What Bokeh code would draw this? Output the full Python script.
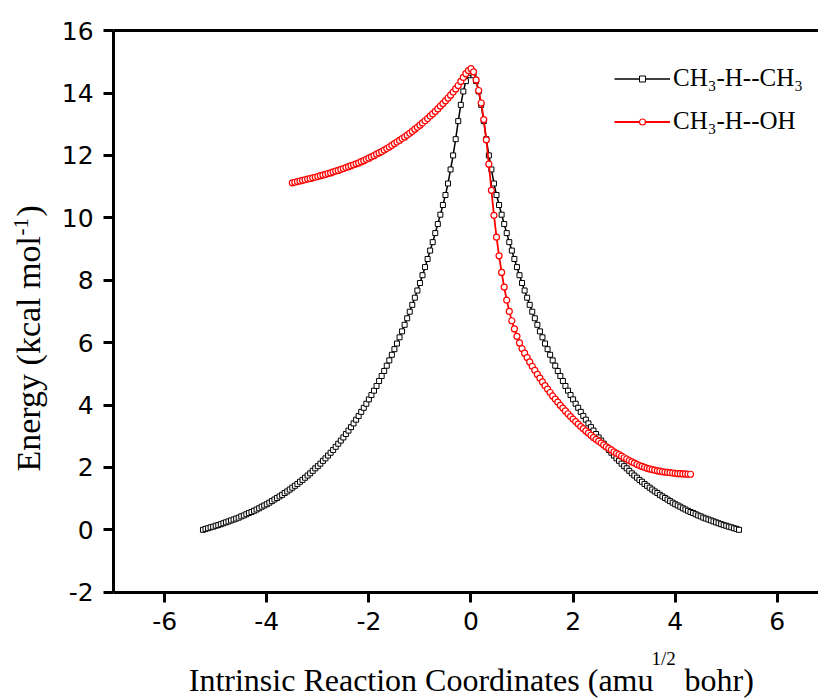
import math
from bokeh.plotting import figure
from bokeh.models import (LinearAxis, Label, Legend, LegendItem, FixedTicker, Range1d,
                          CustomJSTickFormatter)
from bokeh.embed import file_html
from bokeh.resources import INLINE

# ---- data ----
black_x = [-5.25,-5.2,-5.15,-5.1,-5.05,-5.0,-4.95,-4.9,-4.85,-4.8,-4.75,-4.7,-4.65,-4.6,-4.55,-4.5,-4.45,-4.4,-4.35,-4.3,
           -4.25,-4.2,-4.15,-4.1,-4.05,-4.0,-3.95,-3.9,-3.85,-3.8,-3.75,-3.7,-3.65,-3.6,-3.55,-3.5,-3.45,-3.4,-3.35,-3.3,
           -3.25,-3.2,-3.15,-3.1,-3.05,-3.0,-2.95,-2.9,-2.85,-2.8,-2.75,-2.7,-2.65,-2.6,-2.55,-2.5,-2.45,-2.4,-2.35,-2.3,
           -2.25,-2.2,-2.15,-2.1,-2.05,-2.0,-1.95,-1.9,-1.85,-1.8,-1.75,-1.7,-1.65,-1.6,-1.55,-1.5,-1.45,-1.4,-1.35,-1.3,
           -1.25,-1.2,-1.15,-1.1,-1.05,-1.0,-0.95,-0.9,-0.85,-0.8,-0.75,-0.7,-0.65,-0.6,-0.55,-0.5,-0.45,-0.4,-0.35,-0.3,
           -0.25,-0.2,-0.15,-0.1,-0.05,0.0,
           0.05,0.1,0.15,0.2,0.25,0.3,0.35,0.4,0.45,0.5,0.55,0.6,0.65,0.7,0.75,0.8,0.85,0.9,0.95,1.0,
           1.05,1.1,1.15,1.2,1.25,1.3,1.35,1.4,1.45,1.5,1.55,1.6,1.65,1.7,1.75,1.8,1.85,1.9,1.95,2.0,
           2.05,2.1,2.15,2.2,2.25,2.3,2.35,2.4,2.45,2.5,2.55,2.6,2.65,2.7,2.75,2.8,2.85,2.9,2.95,3.0,
           3.05,3.1,3.15,3.2,3.25,3.3,3.35,3.4,3.45,3.5,3.55,3.6,3.65,3.7,3.75,3.8,3.85,3.9,3.95,4.0,
           4.05,4.1,4.15,4.2,4.25,4.3,4.35,4.4,4.45,4.5,4.55,4.6,4.65,4.7,4.75,4.8,4.85,4.9,4.95,5.0,
           5.05,5.1,5.15,5.2,5.25]
black_e = [0.00,0.03,0.05,0.08,0.10,0.13,0.15,0.18,0.21,0.24,0.27,0.30,0.33,0.36,0.39,0.43,0.46,0.50,0.54,0.57,
           0.61,0.65,0.69,0.74,0.78,0.82,0.87,0.92,0.97,1.02,1.07,1.12,1.18,1.23,1.29,1.35,1.41,1.47,1.54,1.60,
           1.67,1.74,1.81,1.89,1.97,2.04,2.12,2.21,2.29,2.38,2.47,2.56,2.66,2.76,2.86,2.96,3.07,3.18,3.29,3.41,
           3.53,3.65,3.78,3.91,4.04,4.18,4.32,4.46,4.61,4.77,4.93,5.09,5.26,5.43,5.61,5.79,5.97,6.17,6.36,6.57,
           6.78,6.99,7.21,7.44,7.67,7.91,8.16,8.42,8.68,8.95,9.22,9.51,9.80,10.10,10.41,10.73,11.10,11.55,12.00,12.52,
           13.10,13.62,14.05,14.38,14.57,14.65,
           14.57,14.38,14.05,13.62,13.10,12.52,12.00,11.55,11.10,10.73,10.41,10.10,9.80,9.51,9.22,8.95,8.68,8.42,8.16,7.91,
           7.67,7.44,7.21,6.99,6.78,6.57,6.36,6.17,5.97,5.79,5.61,5.43,5.26,5.09,4.93,4.77,4.61,4.46,4.32,4.18,
           4.04,3.91,3.78,3.65,3.53,3.41,3.29,3.18,3.07,2.96,2.86,2.76,2.66,2.56,2.47,2.38,2.29,2.21,2.12,2.04,
           1.97,1.89,1.81,1.74,1.67,1.60,1.54,1.47,1.41,1.35,1.29,1.23,1.18,1.12,1.07,1.02,0.97,0.92,0.87,0.82,
           0.78,0.74,0.69,0.65,0.61,0.57,0.54,0.50,0.46,0.43,0.39,0.36,0.33,0.30,0.27,0.24,0.21,0.18,0.15,0.13,
           0.10,0.08,0.05,0.03,0.00]

red_x = [-3.5,-3.45,-3.4,-3.35,-3.3,-3.25,-3.2,-3.15,-3.1,-3.05,-3.0,-2.95,-2.9,-2.85,-2.8,-2.75,-2.7,-2.65,-2.6,-2.55,
         -2.5,-2.45,-2.4,-2.35,-2.3,-2.25,-2.2,-2.15,-2.1,-2.05,-2.0,-1.95,-1.9,-1.85,-1.8,-1.75,-1.7,-1.65,-1.6,-1.55,
         -1.5,-1.45,-1.4,-1.35,-1.3,-1.25,-1.2,-1.15,-1.1,-1.05,-1.0,-0.95,-0.9,-0.85,-0.8,-0.75,-0.7,-0.65,-0.6,-0.55,
         -0.5,-0.45,-0.4,-0.35,-0.3,-0.25,-0.2,-0.15,-0.1,-0.05,0.0,
         0.05,0.1,0.15,0.2,0.25,0.3,0.35,0.4,0.45,0.5,0.55,0.6,0.65,0.7,0.75,0.8,0.85,0.9,0.95,1.0,
         1.05,1.1,1.15,1.2,1.25,1.3,1.35,1.4,1.45,1.5,1.55,1.6,1.65,1.7,1.75,1.8,1.85,1.9,1.95,2.0,
         2.05,2.1,2.15,2.2,2.25,2.3,2.35,2.4,2.45,2.5,2.55,2.6,2.65,2.7,2.75,2.8,2.85,2.9,2.95,3.0,
         3.05,3.1,3.15,3.2,3.25,3.3,3.35,3.4,3.45,3.5,3.55,3.6,3.65,3.7,3.75,3.8,3.85,3.9,3.95,4.0,
         4.05,4.1,4.15,4.2,4.25,4.3]
red_e = [11.12,11.14,11.16,11.18,11.20,11.22,11.24,11.26,11.28,11.30,11.32,11.35,11.37,11.39,11.42,11.44,11.47,11.50,11.52,11.55,
         11.58,11.61,11.64,11.67,11.70,11.73,11.76,11.80,11.83,11.87,11.91,11.95,11.99,12.04,12.08,12.12,12.17,12.22,12.27,12.32,
         12.38,12.43,12.48,12.54,12.59,12.65,12.71,12.77,12.84,12.90,12.97,13.04,13.11,13.18,13.26,13.33,13.41,13.49,13.58,13.66,
         13.75,13.84,13.93,14.03,14.13,14.24,14.37,14.50,14.62,14.72,14.78,
         14.68,14.42,14.08,13.68,13.15,12.50,11.72,10.88,10.08,9.38,8.78,8.25,7.78,7.36,7.00,6.70,6.44,6.20,5.99,5.81,
         5.66,5.52,5.38,5.24,5.11,4.98,4.86,4.74,4.62,4.51,4.40,4.29,4.19,4.09,3.99,3.90,3.81,3.72,3.63,3.55,
         3.47,3.39,3.31,3.24,3.17,3.10,3.03,2.96,2.90,2.84,2.78,2.72,2.66,2.61,2.56,2.50,2.45,2.41,2.36,2.31,
         2.27,2.22,2.18,2.14,2.10,2.06,2.03,2.00,1.97,1.95,1.93,1.91,1.89,1.88,1.86,1.85,1.84,1.83,1.82,1.81,
         1.80,1.80,1.79,1.79,1.78,1.78]

series_names = ["CH\u2083-H--CH\u2083", "CH\u2083-H--OH"]
x_ticks = [-6, -4, -2, 0, 2, 4, 6]
y_ticks = [-2, 0, 2, 4, 6, 8, 10, 12, 14, 16]
x_axis_bounds = (-7.0, 6.81)
y_axis_bounds = (-2, 16)

nb = min(len(black_x), len(black_e))
nr = min(len(red_x), len(red_e))

SERIF = "Liberation Serif"
SANS = "DejaVu Sans"
W, H = 818, 698

# the frame fills the whole canvas; axes are pinned at the plot-area edges
p = figure(width=W, height=H, x_range=Range1d(-9.216, 6.807), y_range=Range1d(-5.407, 16.965),
           output_backend="svg", toolbar_location=None,
           min_border_left=0, min_border_right=0, min_border_top=0, min_border_bottom=0)
p.background_fill_color = "white"
p.border_fill_color = "white"
p.outline_line_color = None
p.xgrid.visible = False
p.ygrid.visible = False

fmt = CustomJSTickFormatter(code="return tick.toFixed(0);")
for ax in (p.xaxis[0], p.yaxis[0]):
    ax.axis_line_width = 3
    ax.axis_line_color = "black"
    ax.major_tick_line_width = 3
    ax.major_tick_line_color = "black"
    ax.major_tick_in = 0
    ax.major_tick_out = 10
    ax.minor_tick_line_color = None
    ax.major_label_text_font = SANS
    ax.major_label_text_font_size = "25px"
    ax.major_label_text_color = "black"
    ax.axis_label = None
    ax.formatter = fmt
p.xaxis[0].ticker = FixedTicker(ticks=x_ticks)
p.yaxis[0].ticker = FixedTicker(ticks=y_ticks)
p.xaxis[0].fixed_location = y_axis_bounds[0]
p.yaxis[0].fixed_location = x_axis_bounds[0]
p.xaxis[0].bounds = x_axis_bounds
p.yaxis[0].bounds = y_axis_bounds
p.xaxis[0].major_label_standoff = 10
p.yaxis[0].major_label_standoff = 10

top = LinearAxis(ticker=FixedTicker(ticks=[]), axis_line_width=3, axis_line_color="black",
                 major_tick_line_color=None, minor_tick_line_color=None,
                 major_label_text_font_size="0px", major_tick_out=0, major_tick_in=0,
                 fixed_location=y_axis_bounds[1], bounds=x_axis_bounds)
p.add_layout(top, "above")

bl = p.line(black_x[:nb], black_e[:nb], line_color="black", line_width=1.5)
bs = p.scatter(black_x[:nb], black_e[:nb], marker="square", size=5, line_color="black",
               fill_color="white", line_width=1)
rl = p.line(red_x[:nr], red_e[:nr], line_color="#ff0000", line_width=1.8)
rs = p.scatter(red_x[:nr], red_e[:nr], marker="circle", size=6, line_color="#ff0000",
               fill_color="white", line_width=1.2)

legend = Legend(items=[LegendItem(label=series_names[0], renderers=[bl, bs]),
                       LegendItem(label=series_names[1], renderers=[rl, rs])],
                location=(614, 562), glyph_width=56, glyph_height=15, label_height=30,
                spacing=13, padding=0, margin=0, label_standoff=3,
                label_text_font=SERIF, label_text_font_size="25px", label_text_color="black",
                border_line_color=None, background_fill_alpha=0)
p.add_layout(legend, "center")

# axis titles with superscripts; screen units from the canvas' bottom-left corner
def lab(text, x, y, size, align="left", angle=0.0):
    p.add_layout(Label(x=x, y=y, x_units="screen", y_units="screen", text=text,
                       text_font=SERIF, text_font_size=size, text_color="black",
                       text_align=align, text_baseline="alphabetic", angle=angle))

lab("Intrinsic Reaction Coordinates (amu", 653, 19, "32px", align="right")
lab("1/2", 651, 40, "19px")
lab("bohr)", 684, 19, "32px")

lab("Energy (kcal mol", 28, 227, "34px", angle=math.pi / 2)
lab("-1", 20, 463, "21px", angle=math.pi / 2)
lab(")", 28, 482, "34px", angle=math.pi / 2)

open("out.html", "w").write(file_html(p, INLINE))
